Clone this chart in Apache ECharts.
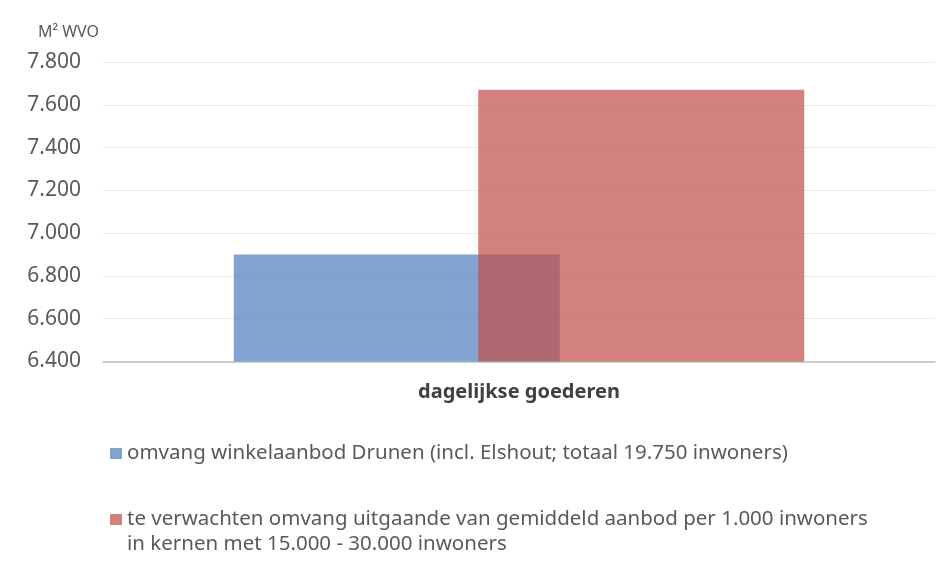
<!DOCTYPE html>
<html>
<head>
<meta charset="utf-8">
<script src="https://cdn.jsdelivr.net/npm/echarts@6/dist/echarts.min.js"></script>
<style>
html,body{margin:0;padding:0;background:#fff;}
#c{width:949px;height:572px;}
</style>
</head>
<body>
<div id="c"></div>
<script>
const categories = ['dagelijkse goederen'];
const seriesNames = [
  'omvang winkelaanbod Drunen (incl. Elshout; totaal 19.750 inwoners)',
  'te verwachten omvang uitgaande van gemiddeld aanbod per 1.000 inwoners\nin kernen met 15.000 - 30.000 inwoners'
];
const drunenValues = [6900];
const expectedValues = [7670];
const yMin = 6400, yMax = 7800, yStep = 200;
const yAxisName = 'M² WVO';

function fmt(v){ return String(v).replace(/\B(?=(\d{3})+(?!\d))/g, '.'); }

const chart = echarts.init(document.getElementById('c'), null, {renderer:'canvas'});
const font = '"Noto Sans", "Open Sans", sans-serif';
chart.setOption({
  animation:false,
  grid:{left:103, right:14, top:62, bottom:210.5, containLabel:false},
  xAxis:{
    type:'category', data:categories,
    axisLine:{show:true, lineStyle:{color:'#bfbfbf', width:1.5}},
    axisTick:{show:false},
    axisLabel:{color:'#404040', fontFamily:font, fontWeight:'bold', fontSize:20, margin:21}
  },
  yAxis:{
    type:'value', min:yMin, max:yMax, interval:yStep,
    name:yAxisName, nameLocation:'end', nameGap:22,
    nameTextStyle:{color:'#595959', fontFamily:font, fontSize:16, align:'right', padding:[0,4,0,0]},
    axisLine:{show:false}, axisTick:{show:false},
    splitLine:{lineStyle:{color:'#ececec', width:1}},
    axisLabel:{color:'#595959', fontFamily:font, fontSize:21, margin:22, formatter:fmt}
  },
  legend:[
    {data:[seriesNames[0]], left:105, top:436, orient:'vertical', icon:'rect', itemWidth:12, itemHeight:11,
     textStyle:{color:'#595959', fontFamily:font, fontSize:20.5, lineHeight:25}},
    {data:[seriesNames[1]], left:105, top:477, orient:'vertical', icon:'rect', itemWidth:12, itemHeight:11,
     formatter:function(n){ return ' \n' + n; },
     textStyle:{color:'#595959', fontFamily:font, fontSize:20.5, lineHeight:25}}
  ],
  series:[
    {name:seriesNames[0], type:'bar', data:drunenValues, barWidth:326, barGap:'-25%',
     itemStyle:{color:'#4F81BD', opacity:0.72}},
    {name:seriesNames[1], type:'bar', data:expectedValues, barWidth:326,
     itemStyle:{color:'#C0504D', opacity:0.72}}
  ]
});
</script>
</body>
</html>
